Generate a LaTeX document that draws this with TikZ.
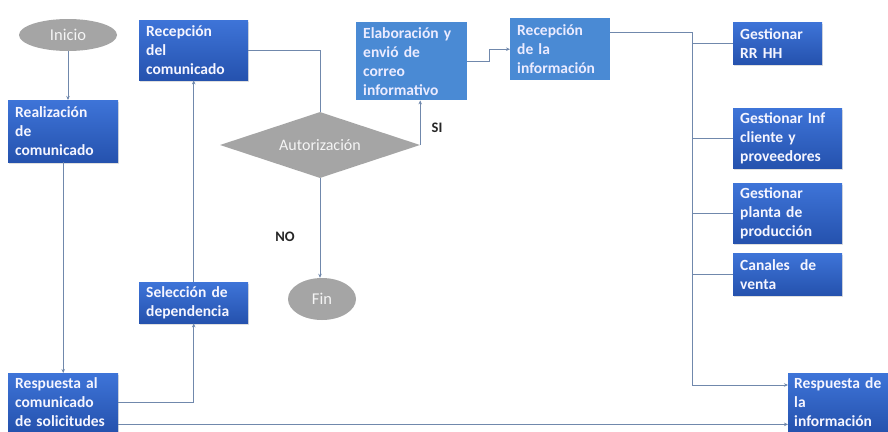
\documentclass[tikz,border=0pt]{standalone}
\usepackage{fontspec}
\setmainfont{Carlito}[WordSpace={0.9,0,0}]
\usetikzlibrary{shapes.geometric,arrows.meta,shadows}

\definecolor{boxtop}{HTML}{3E74D8}
\definecolor{boxbot}{HTML}{2552AE}
\definecolor{boxlight}{HTML}{4A8AD4}
\definecolor{shapegray}{HTML}{A5A5A5}
\definecolor{linkcol}{HTML}{7088AC}

\tikzset{
  boxfont/.style={font=\bfseries\fontsize{15.5}{19}\selectfont},
  darkbox/.style={rectangle, anchor=north west, inner xsep=7pt, inner ysep=0pt,
    align=left, text=white!96!blue, boxfont,
    top color=boxtop, bottom color=boxbot, draw=none,
    drop shadow={opacity=0.25, shadow xshift=1pt, shadow yshift=-1.5pt}},
  lightbox/.style={rectangle, anchor=north west, inner xsep=7pt, inner ysep=0pt,
    align=left, text=white!92!blue, boxfont,
    fill=boxlight, draw=none},
  terminal/.style={ellipse, fill=shapegray, draw=none, inner sep=0pt,
    text=white!92!gray, font=\fontsize{16.5}{18}\selectfont},
  decision/.style={diamond, aspect=3, fill=shapegray, draw=none, inner sep=0pt,
    text=white!92!gray, font=\fontsize{16}{18}\selectfont},
  branchlabel/.style={inner sep=0pt, font=\bfseries\fontsize{14.5}{16}\selectfont, text=black!85},
  link/.style={draw=linkcol, line width=0.9pt},
  arrow/.style={link, -{Stealth[length=4pt,width=3.5pt]}},
}

\begin{document}
\begin{tikzpicture}[x=1pt,y=-1pt]
  \path[fill=white,use as bounding box] (0,0) rectangle (888,431);

  % start / end terminals and the decision
  \node[terminal, minimum width=98pt, minimum height=32pt] (inicio) at (68,35) {Inicio};
  \node[terminal, minimum width=68pt, minimum height=42pt] (fin) at (322,299) {Fin};
  \node[decision, minimum width=200pt, minimum height=66pt] (aut) at (320,145) {Autorización};

  % process boxes
  \node[darkbox, text width=96pt, minimum height=62pt] (real) at (8,100) {Realización\\de\\comunicado};
  \node[darkbox, text width=95pt, minimum height=60pt] (rcom) at (139,20) {Recepción\\del\\comunicado};
  \node[lightbox, text width=97pt, minimum height=78pt] (elab) at (356,22) {Elaboración y\\envió de\\correo\\informativo};
  \node[lightbox, text width=86pt, minimum height=62pt] (rinf) at (510,18) {Recepción\\de la\\información};
  \node[darkbox, text width=75pt, minimum height=42pt] (rrhh) at (733,22) {Gestionar\\RR HH};
  \node[darkbox, text width=95pt, minimum height=60pt] (ginf) at (733,108) {Gestionar Inf\\cliente y\\proveedores};
  \node[darkbox, text width=95pt, minimum height=60pt] (planta) at (733,183) {Gestionar\\planta de\\producción};
  \node[darkbox, text width=95pt, minimum height=42pt] (canal) at (733,253) {Canales~ de\\venta};
  \node[darkbox, text width=95pt, minimum height=41pt] (sel) at (139,282) {Selección de\\dependencia};
  \node[darkbox, text width=96pt, minimum height=58pt] (resp) at (8,373) {Respuesta al\\comunicado\\de solicitudes};
  \node[darkbox, inner xsep=6pt, text width=88pt, minimum height=58pt] (rspi) at (788,373) {Respuesta~de\\la\\información};

  % branch labels of the decision
  \node[branchlabel] (si) at (437,128) {SI};
  \node[branchlabel] (no) at (285,237) {NO};

  % bus that distributes the received information
  \coordinate (bustop) at (692,32);
  \coordinate (busbot) at (692,385);

  % connectors
  \draw[arrow] (inicio.south) -- (inicio.south |- real.north);
  \draw[arrow] (real.south) -- (resp.north);
  \draw[arrow] (resp.east) -| (sel.south);
  \draw[arrow] (sel.north) -- (sel.north |- rcom.south);
  \draw[link] (rcom.east) -| (aut.north);
  \draw[arrow] (aut.east) -- (aut.east |- elab.south);
  \draw[arrow] (aut.south) -- (aut.south |- fin.north);
  \draw[arrow] (elab.east) -- ++(22,0) |- (rinf.west);
  \draw[link] ([yshift=-14pt]rinf.north east) -- (bustop) -- (busbot);
  \draw[link] (bustop |- rrhh.west) -- (rrhh.west);
  \draw[link] (bustop |- ginf.west) -- (ginf.west);
  \draw[link] (bustop |- planta.west) -- (planta.west);
  \draw[link] (bustop |- canal.west) -- (canal.west);
  \draw[arrow] (busbot) -- (busbot -| rspi.west);
  \draw[arrow] ([yshift=7pt]resp.south east) -- ([yshift=7pt]resp.south east -| rspi.west);
\end{tikzpicture}
\end{document}
